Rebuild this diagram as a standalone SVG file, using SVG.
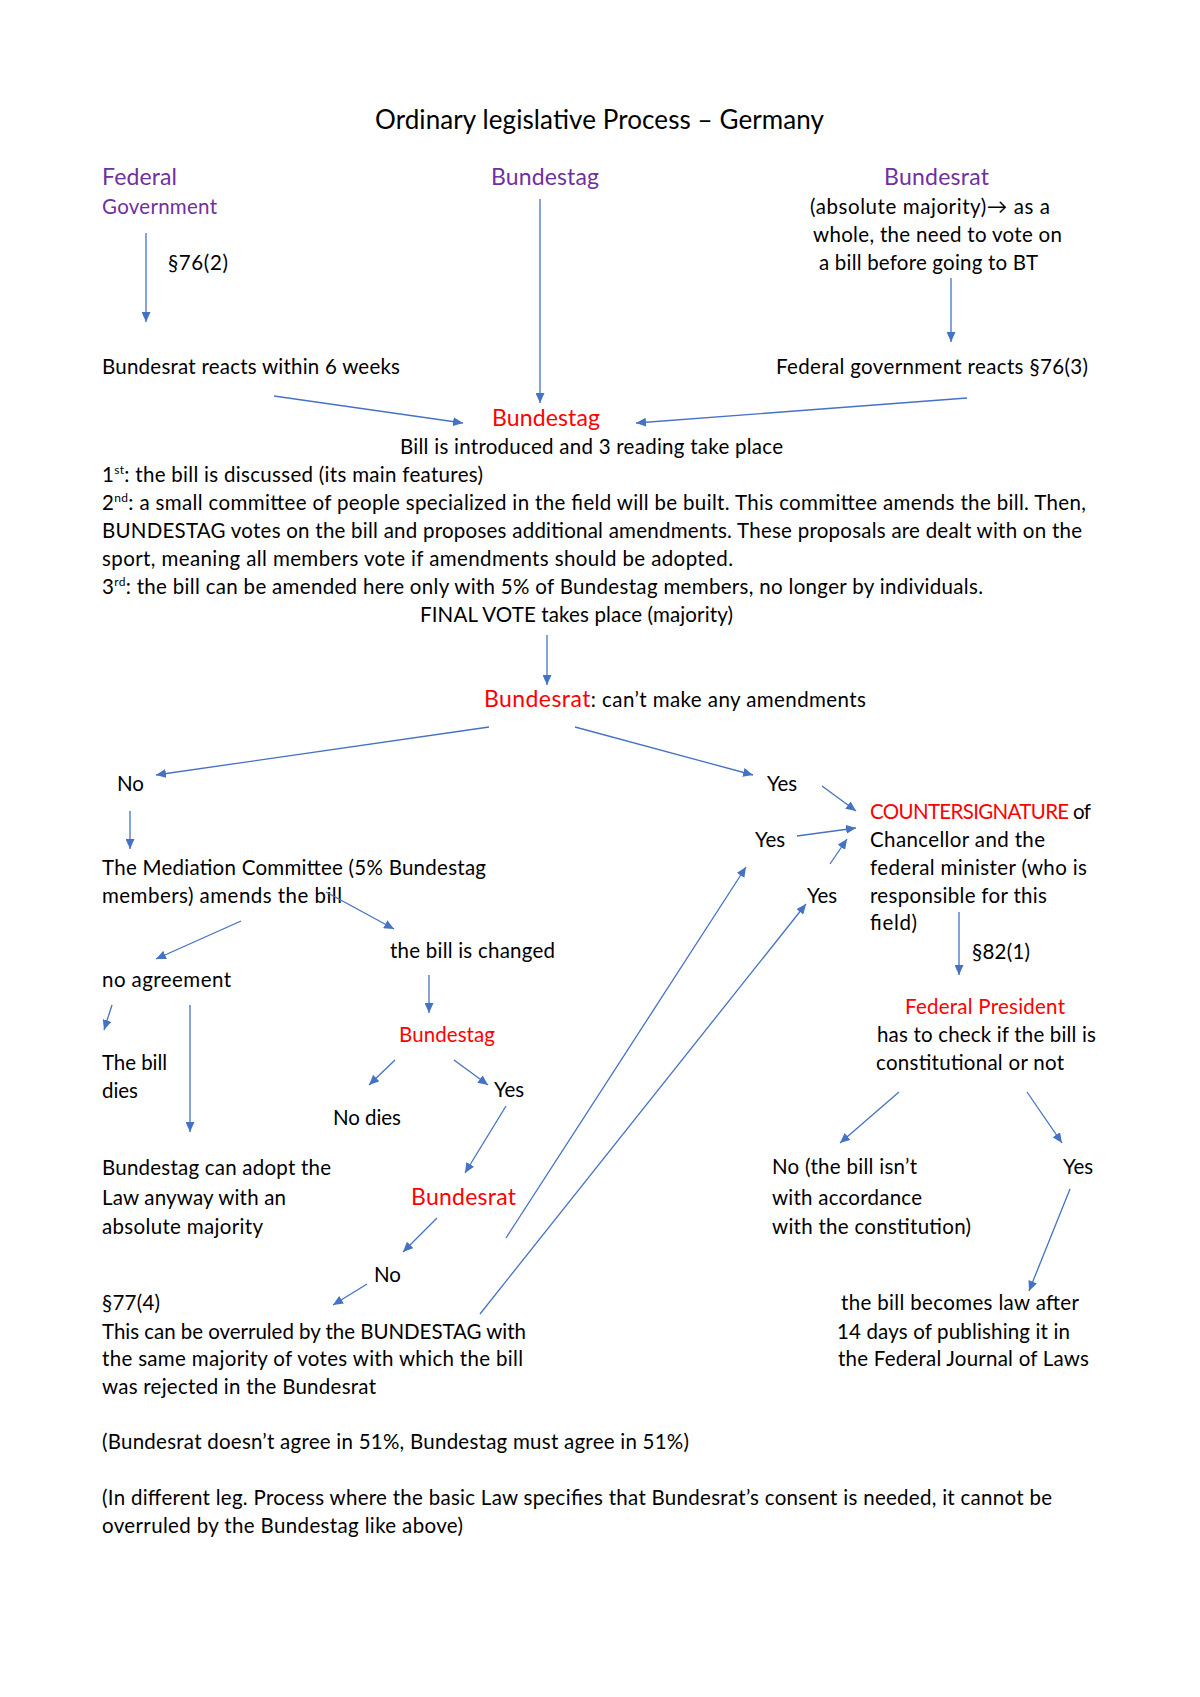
<svg xmlns="http://www.w3.org/2000/svg" width="1200" height="1697" viewBox="0 0 1200 1697">
<style>
text{font-family:Lato,"Open Sans","Liberation Sans",sans-serif;font-size:20.5px;fill:#000}
.h{font-size:23px}
.ttl{font-size:26px}
.p{fill:#7030A0}
.r{fill:#FF0000}
.c line{stroke:#4472C4;stroke-width:1.3;fill:none;marker-end:url(#ah)}
</style>
<defs>
<marker id="ah" markerUnits="userSpaceOnUse" markerWidth="10" markerHeight="9" refX="10" refY="4.5" orient="auto">
<path d="M0,0 L10,4.5 L0,9 z" fill="#4472C4"/>
</marker>
</defs>
<rect width="1200" height="1697" fill="#fff"/>

<g id="title"><text class="ttl" x="375" y="129" textLength="449">Ordinary legislative Process – Germany</text></g>

<g id="federal-government">
<text class="h p" x="102" y="185" textLength="75">Federal</text>
<text class="p" x="102" y="214" textLength="115">Government</text>
</g>
<g id="p76-2"><text x="168" y="270" textLength="60">§76(2)</text></g>
<g id="bundestag-top"><text class="h p" x="491" y="185" textLength="108">Bundestag</text></g>
<g id="bundesrat-top">
<text class="h p" x="884" y="185" textLength="105">Bundesrat</text>
<text x="810" y="214" textLength="240">(absolute majority)→ as a</text>
<text x="813" y="242" textLength="249">whole, the need to vote on</text>
<text x="819" y="270" textLength="219">a bill before going to BT</text>
</g>
<g id="bundesrat-reacts"><text x="102" y="374" textLength="298">Bundesrat reacts within 6 weeks</text></g>
<g id="fedgov-reacts"><text x="776" y="374" textLength="312">Federal government reacts §76(3)</text></g>

<g id="bundestag-main">
<text class="h r" x="492" y="426" textLength="108">Bundestag</text>
<text x="400" y="454" textLength="383">Bill is introduced and 3 reading take place</text>
<text x="102" y="482" textLength="381">1<tspan font-size="12" dy="-8">st</tspan><tspan dy="8">: the bill is discussed (its main features)</tspan></text>
<text x="102" y="510" textLength="984">2<tspan font-size="12" dy="-8">nd</tspan><tspan dy="8">: a small committee of people specialized in the field will be built. This committee amends the bill. Then,</tspan></text>
<text x="102" y="538" textLength="980">BUNDESTAG votes on the bill and proposes additional amendments. These proposals are dealt with on the</text>
<text x="102" y="566" textLength="631">sport, meaning all members vote if amendments should be adopted.</text>
<text x="102" y="594" textLength="881">3<tspan font-size="12" dy="-8">rd</tspan><tspan dy="8">: the bill can be amended here only with 5% of Bundestag members, no longer by individuals.</tspan></text>
<text x="420" y="622" textLength="313">FINAL VOTE takes place (majority)</text>
</g>

<g id="bundesrat-main"><text x="484" y="707" textLength="382"><tspan class="h r">Bundesrat</tspan>: can’t make any amendments</text></g>

<g id="no-1"><text x="117" y="791">No</text></g>
<g id="yes-1"><text x="767" y="791">Yes</text></g>
<g id="countersignature">
<text x="870" y="819" textLength="221"><tspan class="r">COUNTERSIGNATURE</tspan> of</text>
<text x="870" y="847" textLength="175">Chancellor and the</text>
<text x="870" y="875" textLength="217">federal minister (who is</text>
<text x="870" y="903" textLength="177">responsible for this</text>
<text x="870" y="930" textLength="47">field)</text>
</g>
<g id="yes-2"><text x="755" y="847">Yes</text></g>
<g id="yes-3"><text x="807" y="903">Yes</text></g>

<g id="mediation">
<text x="102" y="875" textLength="384">The Mediation Committee (5% Bundestag</text>
<text x="102" y="903" textLength="240">members) amends the bill</text>
</g>
<g id="bill-changed"><text x="390" y="958" textLength="165">the bill is changed</text></g>
<g id="no-agreement"><text x="102" y="987" textLength="129">no agreement</text></g>
<g id="p82-1"><text x="972" y="959" textLength="58">§82(1)</text></g>
<g id="federal-president">
<text class="r" x="905" y="1014" textLength="160">Federal President</text>
<text x="877" y="1042" textLength="219">has to check if the bill is</text>
<text x="876" y="1070" textLength="188">constitutional or not</text>
</g>
<g id="bundestag-2"><text class="r" x="399" y="1042" textLength="96">Bundestag</text></g>
<g id="bill-dies">
<text x="102" y="1070" textLength="65">The bill</text>
<text x="102" y="1098" textLength="36">dies</text>
</g>
<g id="yes-4"><text x="494" y="1097">Yes</text></g>
<g id="no-dies"><text x="333" y="1125" textLength="68">No dies</text></g>
<g id="adopt-anyway">
<text x="102" y="1175" textLength="229">Bundestag can adopt the</text>
<text x="102" y="1205" textLength="184">Law anyway with an</text>
<text x="102" y="1234" textLength="161">absolute majority</text>
</g>
<g id="not-constitutional">
<text x="772" y="1174" textLength="145">No (the bill isn’t</text>
<text x="772" y="1205" textLength="150">with accordance</text>
<text x="772" y="1234" textLength="199">with the constitution)</text>
</g>
<g id="yes-5"><text x="1063" y="1174">Yes</text></g>
<g id="bundesrat-2"><text class="h r" x="411" y="1205" textLength="105">Bundesrat</text></g>
<g id="no-2"><text x="374" y="1282">No</text></g>
<g id="overrule">
<text x="102" y="1310" textLength="58">§77(4)</text>
<text x="102" y="1339" textLength="424">This can be overruled by the BUNDESTAG with</text>
<text x="102" y="1366" textLength="421">the same majority of votes with which the bill</text>
<text x="102" y="1394" textLength="274">was rejected in the Bundesrat</text>
</g>
<g id="becomes-law">
<text x="841" y="1310" textLength="238">the bill becomes law after</text>
<text x="837" y="1339" textLength="233">14 days of publishing it in</text>
<text x="838" y="1366" textLength="251">the Federal Journal of Laws</text>
</g>
<g id="notes">
<text x="102" y="1449" textLength="587">(Bundesrat doesn’t agree in 51%, Bundestag must agree in 51%)</text>
<text x="102" y="1505" textLength="950">(In different leg. Process where the basic Law specifies that Bundesrat’s consent is needed, it cannot be</text>
<text x="102" y="1533" textLength="361">overruled by the Bundestag like above)</text>
</g>

<g id="connectors" class="c">
<line x1="146" y1="233" x2="146" y2="322"/>
<line x1="540" y1="199" x2="540" y2="403"/>
<line x1="951" y1="278" x2="951" y2="342"/>
<line x1="274" y1="396" x2="463" y2="423"/>
<line x1="967" y1="398" x2="636" y2="423"/>
<line x1="547" y1="635" x2="547" y2="685"/>
<line x1="489" y1="727" x2="156" y2="775"/>
<line x1="575" y1="727" x2="753" y2="775"/>
<line x1="130" y1="811" x2="130" y2="849"/>
<line x1="822" y1="786" x2="856" y2="811"/>
<line x1="797" y1="836" x2="856" y2="828"/>
<line x1="830" y1="864" x2="847" y2="839"/>
<line x1="506" y1="1238" x2="746" y2="867"/>
<line x1="480" y1="1314" x2="806" y2="904"/>
<line x1="326" y1="892" x2="394" y2="929"/>
<line x1="241" y1="921" x2="156" y2="959"/>
<line x1="429" y1="975" x2="429" y2="1013"/>
<line x1="112" y1="1005" x2="104" y2="1030"/>
<line x1="190" y1="1005" x2="190" y2="1132"/>
<line x1="395" y1="1060" x2="369" y2="1085"/>
<line x1="454" y1="1060" x2="488" y2="1085"/>
<line x1="506" y1="1106" x2="465" y2="1173"/>
<line x1="437" y1="1218" x2="403" y2="1252"/>
<line x1="367" y1="1284" x2="333" y2="1305"/>
<line x1="959" y1="912" x2="959" y2="975"/>
<line x1="899" y1="1092" x2="840" y2="1143"/>
<line x1="1027" y1="1092" x2="1062" y2="1143"/>
<line x1="1070" y1="1189" x2="1029" y2="1291"/>
</g>
</svg>
